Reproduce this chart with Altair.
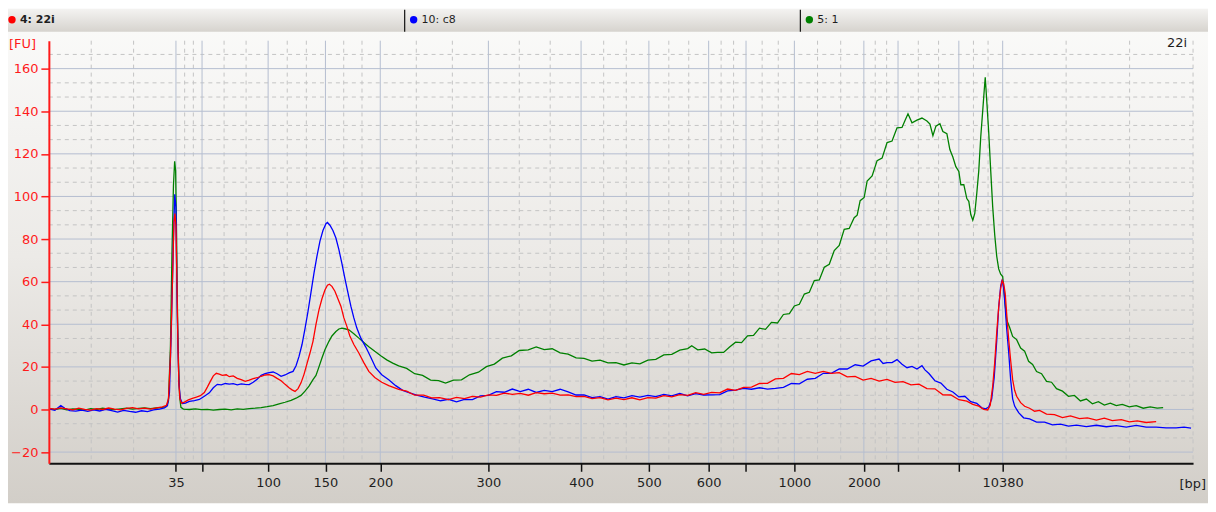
import altair as alt
import pandas as pd

# ---------------- data ----------------
# ladder sizes (bp) and their migration time (s)
ladder_bp = [35, 50, 100, 150, 200, 300, 400, 500, 600, 700, 1000, 2000, 3000, 7000, 10380]
ladder_time = [17.65, 20.27, 26.9, 32.65, 38.15, 49.0, 58.3, 65.1, 71.1, 74.85, 79.7, 86.67, 90.1, 96.2, 100.6]
ladder_label = ["35", "", "100", "150", "200", "300", "400", "500", "600", "", "1000", "2000", "", "", "10380"]
fu_ticks = [-20, 0, 20, 40, 60, 80, 100, 120, 140, 160]
time_domain = [4.9, 119.7]
fu_domain = [-25.26, 173.1]

sample_names = ["4: 22i", "10: c8", "5: 1"]
sample_colors = ["#ff0000", "#0000ff", "#008000"]

# (migration time s, FU)
red_trace = [(4.9,0.5),(5.5,0.2),(6.1,0.8),(6.7,0.3),(7.3,-0.2),(7.9,0.6),(8.5,0.1),(9.1,-0.3),(9.7,0.4),(10.3,0.0),
    (10.9,0.7),(11.5,0.2),(12.1,-0.2),(12.7,0.5),(13.3,0.9),(13.9,0.3),(14.5,0.6),(15.1,0.2),(15.7,0.8),(16.3,1.2),
    (16.7,2.0),(16.9,5),(17.1,25),(17.3,60),(17.45,88),(17.55,92),(17.65,86),(17.75,60),(17.85,30),(17.95,12),
    (18.05,5),(18.2,3),(18.5,3.5),(18.9,4.5),(19.3,5.2),(19.7,5.8),(20.1,6.5),(20.5,8.0),(20.8,10.5),(21.1,13.2),
    (21.4,15.8),(21.7,17.0),(22.0,16.6),(22.3,16.0),(22.7,16.3),(23.0,15.4),(23.4,15.8),(23.8,14.6),(24.2,14.0),(24.6,13.2),
    (25.0,13.8),(25.4,14.5),(25.8,14.9),(26.2,15.6),(26.6,16.2),(27.0,16.4),(27.4,15.8),(27.8,14.6),(28.2,13.5),(28.6,11.8),
    (29.0,10.2),(29.3,9.2),(29.6,8.5),(29.9,9.8),(30.2,12.5),(30.5,16.5),(30.8,21.5),(31.1,26.5),(31.4,32),(31.7,40),
    (32.0,46.8),(32.3,52),(32.6,56.1),(32.85,58.3),(33.05,58.8),(33.3,57.8),(33.6,55.5),(33.9,52),(34.2,48.5),(34.5,43),
    (34.8,39),(35.1,34.5),(35.5,30.5),(36.0,26.5),(36.5,22),(37.0,17.9),(37.6,15),(38.3,12.8),(39.0,11.2),(40.0,9.4),
    (40.8,8.6),(41.6,6.7),(42.5,6.7),(43.3,5.5),(44.1,5.6),(45.0,4.6),(45.8,5.7),(46.6,5.1),(47.4,6.2),(48.2,5.8),
    (49.0,6.9),(49.8,6.6),(50.6,7.7),(51.4,7.1),(52.2,7.6),(53.0,6.7),(53.8,7.9),(54.6,7.4),(55.4,7.7),(56.2,6.7),
    (57.0,6.9),(57.8,6.0),(58.6,6.2),(59.4,5.1),(60.2,5.6),(61.0,4.5),(61.8,5.3),(62.6,4.6),(63.4,5.5),(64.2,4.5),
    (65.0,5.6),(65.8,5.3),(66.6,6.5),(67.4,5.9),(68.2,7.0),(69.0,6.6),(69.8,7.9),(70.6,7.1),(71.4,8.0),(72.2,7.8),
    (73.0,9.6),(73.8,9.0),(74.6,10.4),(75.4,10.5),(76.2,12.2),(77.0,12.3),(77.8,14.4),(78.6,14.6),(79.4,16.9),(80.2,16.4),
    (81.0,17.9),(81.8,17.0),(82.6,17.9),(83.4,17.0),(84.2,17.3),(85.0,15.3),(85.8,15.5),(86.6,13.8),(87.4,14.6),(88.2,13.3),
    (89.0,14.1),(89.8,12.7),(90.6,13.1),(91.4,11.6),(92.2,11.9),(93.0,9.8),(93.8,9.7),(94.6,6.9),(95.4,6.8),(96.2,4.6),
    (97.0,3.9),(97.6,2.4),(98.2,1.6),(98.7,0.1),(99.1,-0.2),(99.35,2),(99.6,11),(99.8,22),(100.0,36),(100.2,48),
    (100.4,57),(100.55,60.5),(100.7,59),(100.85,54.6),(101.0,45),(101.2,33),(101.4,23),(101.6,14),(101.8,9),(102.0,6.2),
    (102.4,3.2),(102.8,1.5),(103.3,0.6),(103.8,-0.8),(104.3,-0.4),(105.0,-2.2),(105.8,-2.4),(106.6,-3.8),(107.4,-3.0),(108.3,-4.3),
    (109.1,-3.9),(110.0,-5.0),(110.8,-4.1),(111.6,-5.2),(112.5,-4.8),(113.3,-5.8),(114.1,-5.3),(115.0,-6.1),(116.0,-5.7)]

blue_trace = [(4.9,0.3),(5.5,-0.4),(6.1,1.8),(6.5,0.6),(7.0,-0.5),(7.6,-0.8),(8.2,-0.3),(8.8,-0.9),(9.4,-0.2),(10.0,-0.7),
    (10.6,0.1),(11.2,-0.5),(11.8,-1.2),(12.4,-0.4),(13.0,-0.9),(13.6,-1.3),(14.2,-0.6),(14.8,-1.0),(15.4,-0.2),(16.0,0.2),
    (16.5,0.8),(16.8,1.8),(17.0,8),(17.2,40),(17.4,80),(17.53,101),(17.65,95),(17.75,55),(17.85,30),(17.95,12),
    (18.1,5),(18.3,2.8),(18.6,3.0),(19.0,3.8),(19.5,4.2),(20.0,4.7),(20.5,6.2),(21.0,7.8),(21.4,10.2),(21.8,11.8),
    (22.2,11.6),(22.6,12.2),(23.0,11.9),(23.4,12.1),(23.8,11.6),(24.2,12.0),(24.6,11.8),(25.0,11.7),(25.4,12.8),(25.8,14.2),
    (26.2,16.0),(26.6,16.8),(27.0,17.3),(27.4,17.6),(27.8,16.8),(28.2,15.6),(28.6,16.2),(29.0,17.2),(29.4,17.9),(29.7,20.5),
    (30.0,24.9),(30.3,30.5),(30.6,38),(30.9,46),(31.2,55),(31.5,64),(31.8,72),(32.1,79),(32.4,84),(32.7,87.2),
    (32.85,87.8),(33.1,86.5),(33.4,84),(33.7,80.5),(34.0,75),(34.3,68.6),(34.6,61.5),(34.9,55),(35.2,48.5),(35.5,43),
    (35.8,38.2),(36.2,33.5),(36.7,29.3),(37.2,24.5),(37.7,19.5),(38.3,16.3),(39.0,14.0),(39.7,11.2),(40.4,9.0),(41.1,7.8),
    (41.8,6.8),(42.6,5.8),(43.4,5.0),(44.2,4.1),(45.0,4.8),(45.8,3.6),(46.6,4.7),(47.4,4.6),(48.2,6.4),(49.0,6.6),
    (49.8,8.4),(50.6,8.1),(51.4,9.6),(52.2,8.4),(53.0,9.5),(53.8,8.0),(54.6,9.0),(55.4,8.4),(56.2,9.5),(57.0,8.3),
    (57.8,6.8),(58.6,6.9),(59.4,5.6),(60.2,6.0),(61.0,4.9),(61.8,6.0),(62.6,5.5),(63.4,6.5),(64.2,5.8),(65.0,6.6),
    (65.8,6.0),(66.6,7.1),(67.4,6.4),(68.2,7.5),(69.0,6.4),(69.8,7.4),(70.6,6.8),(71.4,6.9),(72.2,7.0),(73.0,8.7),
    (73.8,9.1),(74.6,9.9),(75.4,9.5),(76.2,10.2),(77.0,9.6),(77.8,9.9),(78.6,10.4),(79.4,12.2),(80.2,12.0),(81.0,14.2),
    (81.8,14.6),(82.6,17.0),(83.4,17.0),(84.2,19.0),(85.0,19.0),(85.8,21.0),(86.6,20.4),(87.4,22.8),(88.2,23.7),(88.6,21.6),
    (89.0,22.0),(89.5,22.0),(90.0,23.4),(90.5,21.2),(91.0,19.6),(91.5,20.2),(92.0,19.0),(92.5,20.6),(92.8,18.6),(93.2,16.9),
    (93.8,13.5),(94.4,12.4),(95.0,9.5),(95.6,8.2),(96.2,5.9),(96.8,6.2),(97.4,3.7),(98.0,2.9),(98.5,0.8),(98.9,0.3),
    (99.2,1.2),(99.5,5),(99.75,15),(100.0,32),(100.2,48),(100.4,58),(100.55,61),(100.7,57),(100.85,48),(101.0,38),
    (101.2,27),(101.4,14),(101.6,5),(101.8,1.6),(102.2,-1.5),(102.7,-3.9),(103.3,-4.4),(104.0,-5.9),(104.8,-5.9),(105.6,-7.2),
    (106.4,-6.9),(107.2,-7.8),(108.0,-7.3),(109.0,-8.0),(110.0,-7.4),(111.0,-8.1),(112.0,-7.6),(113.0,-8.3),(114.0,-7.5),(115.0,-8.3),
    (116.0,-8.3),(117.0,-8.6),(118.0,-8.6),(118.8,-8.3),(119.5,-8.7)]

green_trace = [(4.9,0.4),(5.5,0.0),(6.1,0.5),(6.7,-0.2),(7.3,0.3),(7.9,0.1),(8.5,-0.3),(9.1,0.4),(9.7,0.0),(10.3,0.6),
    (10.9,0.2),(11.5,-0.1),(12.1,0.3),(12.7,0.6),(13.3,0.2),(13.9,0.5),(14.5,0.8),(15.1,0.4),(15.7,0.7),(16.3,1.0),
    (16.7,1.4),(16.9,4),(17.1,30),(17.25,73),(17.4,105),(17.52,116.5),(17.62,112),(17.72,80),(17.82,40),(17.92,20),
    (18.02,6),(18.15,1.0),(18.4,0.2),(19.0,0.0),(19.6,0.3),(20.2,-0.1),(20.8,0.1),(21.4,-0.3),(22.0,0.0),(22.6,0.2),
    (23.2,-0.2),(23.8,0.3),(24.4,0.1),(25.0,0.4),(25.6,0.6),(26.2,0.9),(26.8,1.3),(27.4,1.8),(28.0,2.6),(28.6,3.4),
    (29.2,4.3),(29.7,5.3),(30.2,6.6),(30.6,8.6),(31.0,11),(31.4,14),(31.7,16),(32.0,20),(32.3,24.2),(32.6,28),
    (33.0,32),(33.3,34.5),(33.7,36.6),(34.0,37.8),(34.3,38.2),(34.6,37.9),(35.0,37.4),(35.5,35.6),(36.0,33.5),(36.5,31.5),
    (37.0,29.5),(37.6,27.3),(38.2,25.2),(38.8,23.3),(39.4,21.8),(40.0,20.5),(40.8,19.3),(41.6,16.8),(42.4,16.0),(43.2,13.8),
    (44.0,13.6),(44.7,12.4),(45.5,13.8),(46.3,13.9),(47.1,16.3),(48.0,17.5),(48.8,20.1),(49.6,21.3),(50.4,24.1),(51.3,25.2),
    (52.1,27.7),(53.0,28.0),(53.8,29.4),(54.6,28.1),(55.4,28.5),(56.2,26.6),(57.0,26.0),(57.8,24.2),(58.6,24.0),(59.4,22.7),
    (60.2,23.2),(61.0,21.9),(61.8,22.0),(62.6,20.9),(63.4,21.9),(64.2,21.4),(65.0,23.2),(65.8,23.5),(66.6,25.6),(67.4,25.9),
    (68.2,27.9),(69.0,28.6),(69.4,29.9),(70.0,28.0),(70.7,28.4),(71.4,26.6),(72.0,26.8),(72.6,26.8),(73.2,29.3),(73.8,31.6),
    (74.4,31.4),(75.0,34.6),(75.6,34.8),(76.2,38.2),(76.8,37.6),(77.4,40.9),(78.0,40.6),(78.6,44.6),(79.2,45.0),(79.7,48.6),
    (80.2,49.4),(80.7,54.2),(81.2,55.0),(81.7,60.5),(82.2,60.8),(82.7,66.8),(83.2,68.2),(83.7,74.6),(84.2,77.0),(84.7,84.6),
    (85.2,85.0),(85.7,90.0),(86.0,91.2),(86.3,98.0),(86.7,99.5),(87.0,107.2),(87.5,109.6),(88.0,116.8),(88.5,118.0),(89.0,125.3),
    (89.5,126.0),(90.0,132.2),(90.5,132.4),(90.8,135.6),(91.1,138.8),(91.5,134.6),(92.0,135.8),(92.5,136.8),(93.0,135.4),(93.3,134.0),
    (93.6,128.5),(93.9,133.0),(94.3,134.1),(94.6,130.5),(95.0,129.5),(95.3,122.0),(95.6,118.5),(95.9,114.0),(96.2,111.7),(96.4,105.5),
    (96.7,105.5),(97.0,99.0),(97.2,97.7),(97.4,91.5),(97.6,88.9),(97.8,92.0),(98.0,101.4),(98.2,112),(98.4,128),(98.6,140.4),
    (98.75,150),(98.85,155.9),(99.0,145),(99.2,130),(99.4,112),(99.6,95),(99.8,82),(100.0,72),(100.2,66),(100.4,63.5),
    (100.6,62.4),(100.8,52),(101.0,42.1),(101.3,38.5),(101.6,34.3),(102.0,32.8),(102.4,28.8),(102.8,27.4),(103.2,22.6),(103.6,21.1),
    (104.0,17.8),(104.5,16.8),(105.0,13.2),(105.5,12.8),(106.0,9.8),(106.6,8.6),(107.2,6.2),(107.8,6.6),(108.4,4.0),(109.0,4.9),
    (109.6,2.7),(110.2,3.7),(110.8,2.1),(111.4,3.0),(112.0,1.8),(112.6,2.4),(113.3,1.2),(114.0,1.8),(114.7,0.6),(115.4,1.2),
    (116.1,0.6),(116.7,0.9)]

fu_unit_text = "[FU]"
bp_unit_text = "[bp]"
sample_tag = "22i"

# ---------------- layout ----------------
PW, PH = 1148, 424
PAD_L, PAD_T, PAD_R, PAD_B = 41, 32, 15, 40
FONT = "DejaVu Sans"

label_expr = " : ".join(
    f"abs(datum.value - {t}) < 0.01 ? '{lab}'" for t, lab in zip(ladder_time, ladder_label)
) + " : ''"

x_axis = alt.Axis(values=ladder_time, labelExpr=label_expr, title=None, grid=False,
                  domainColor="#111111", domainWidth=2, tickColor="#111111", tickSize=8,
                  tickWidth=1.5, labelFont=FONT, labelFontSize=13, labelColor="#1e1e1e",
                  labelPadding=5, labelOverlap=False, labelFlush=False, zindex=1)
y_axis = alt.Axis(values=fu_ticks, title=None, grid=False, domainColor="#ff1a1a",
                  domainWidth=2, tickColor="#ff1a1a", tickSize=8, tickWidth=1.5,
                  labelColor="#ff1a1a", labelFont=FONT, labelFontSize=13, labelPadding=3,
                  labelOverlap=False, zindex=1)

X = alt.X("t:Q", scale=alt.Scale(domain=time_domain, nice=False, zero=False), axis=x_axis)
Y = alt.Y("fu:Q", scale=alt.Scale(domain=fu_domain, nice=False, zero=False), axis=y_axis)

one = pd.DataFrame({"k": [0]})

def grad(c0, c1, cmid=None):
    stops = [alt.GradientStop(color=c0, offset=0)]
    if cmid:
        stops.append(alt.GradientStop(color=cmid, offset=0.5))
    stops.append(alt.GradientStop(color=c1, offset=1))
    return alt.LinearGradient(gradient="linear", stops=stops, x1=0, x2=0, y1=0, y2=1)

background = alt.Chart(one).mark_rect(color=grad("#fbfbfa", "#d2cec8", "#eceae7")).encode(
    x=alt.value(-PAD_L), x2=alt.value(PW + PAD_R), y=alt.value(-PAD_T), y2=alt.value(PH + PAD_B))

header = alt.Chart(one).mark_rect(color=grad("#f4f3f1", "#d6d3ce")).encode(
    x=alt.value(-PAD_L), x2=alt.value(PW + PAD_R), y=alt.value(-PAD_T), y2=alt.value(-9))

# grid
edges = [time_domain[0]] + ladder_time + [time_domain[1]]
minor_t = []
for a, b in zip(edges[:-1], edges[1:]):
    minor_t += [a + (b - a) / 3, a + 2 * (b - a) / 3]
minor_t.append(time_domain[1])
minor_fu = [v + d for v in fu_ticks for d in (20 / 3, 40 / 3) if v + d < 172]

vmaj = alt.Chart(pd.DataFrame({"t": ladder_time})).mark_rule(color="#b5bed0", strokeWidth=1).encode(x=X)
vmin = alt.Chart(pd.DataFrame({"t": minor_t})).mark_rule(color="#c4c4c4", strokeWidth=1, strokeDash=[4, 4]).encode(x=X)
hmaj = alt.Chart(pd.DataFrame({"fu": fu_ticks})).mark_rule(color="#b5bed0", strokeWidth=1).encode(y=Y)
hmin = alt.Chart(pd.DataFrame({"fu": minor_fu})).mark_rule(color="#c4c4c4", strokeWidth=1, strokeDash=[4, 4]).encode(y=Y)

def trace(data, color):
    df = pd.DataFrame(data, columns=["t", "fu"])
    return alt.Chart(df).mark_line(color=color, strokeWidth=1.3, clip=True).encode(x=X, y=Y)

lines = [trace(green_trace, sample_colors[2]), trace(blue_trace, sample_colors[1]),
         trace(red_trace, sample_colors[0])]

def text(s, x, y, color="#1e1e1e", align="left", size=13, weight="normal"):
    return alt.Chart(one).mark_text(text=s, align=align, baseline="middle", font=FONT,
                                    fontSize=size, color=color, fontWeight=weight).encode(
        x=alt.value(x), y=alt.value(y))

annotations = [
    text(fu_unit_text, -40, 3, color="#ff1a1a"),
    text(sample_tag, PW - 6, 2, align="right"),
    text(bp_unit_text, PW + 13, 445, align="right"),
]

# header legend
head_x = [-37, 366, 763]
sep_x = [357, 754]
for i, (name, col) in enumerate(zip(sample_names, sample_colors)):
    annotations.append(alt.Chart(one).mark_point(shape="circle", filled=True, size=55, color=col, opacity=1).encode(
        x=alt.value(head_x[i]), y=alt.value(-21)))
    annotations.append(text(name, head_x[i] + 8, -21, size=11, weight="bold" if i == 0 else "normal"))
for sx in sep_x:
    annotations.append(alt.Chart(one).mark_rule(color="#111111", strokeWidth=1.2).encode(
        x=alt.value(sx), y=alt.value(-31), y2=alt.value(-9)))

chart = alt.layer(background, header, hmin, vmin, hmaj, vmaj, *lines, *annotations).properties(
    width=PW, height=PH,
    autosize=alt.AutoSizeParams(type="none"),
    padding={"left": PAD_L, "top": PAD_T, "right": PAD_R, "bottom": PAD_B},
    background="#ffffff",
).configure_view(stroke=None)

chart.save("out.html", embed_options={"renderer": "svg", "actions": False})
